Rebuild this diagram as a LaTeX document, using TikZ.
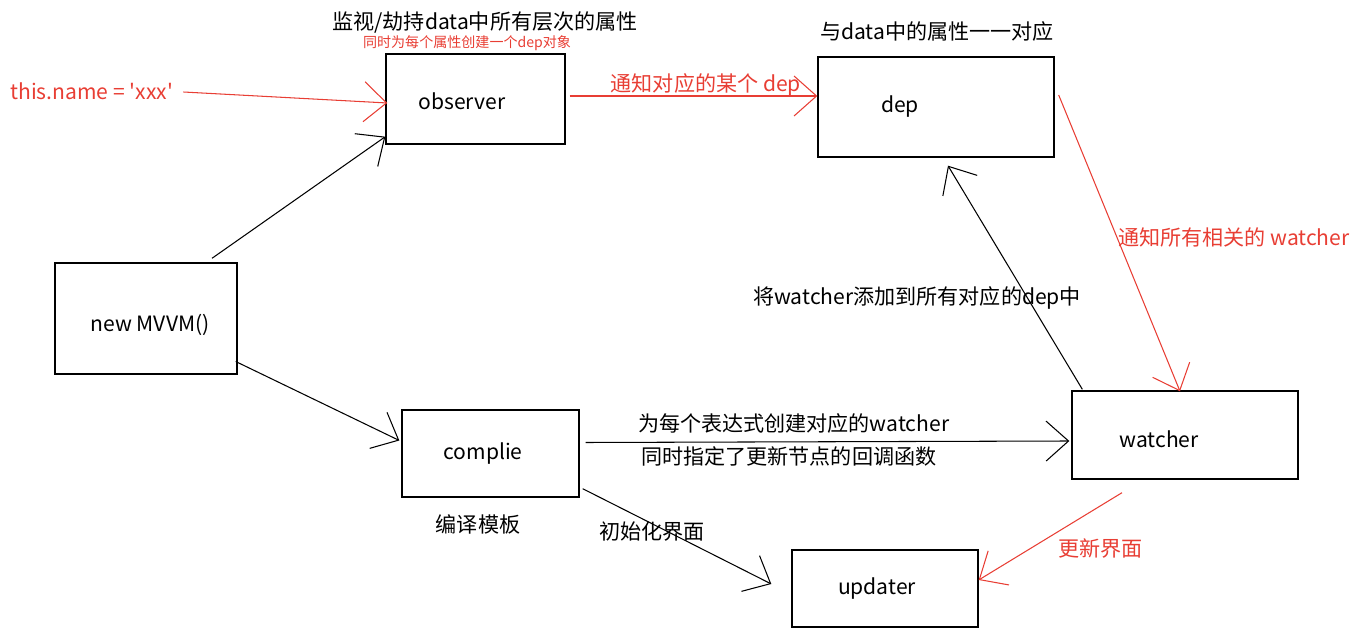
\documentclass[tikz,border=0pt]{standalone}
\usepackage{fontspec}
\setmainfont{Noto Sans CJK SC}[Ligatures = TeXOff]
\usetikzlibrary{positioning, calc, arrows.meta}
\definecolor{pen}{RGB}{232,62,52}
\tikzstyle{Arrow} = [
%hand drawn open arrow:
line width = 0.6pt,
-{Straight Barb[length = 0.45cm, width = 0.8cm, line width = 0.6pt]}
]

\begin{document}
\begin{tikzpicture}[x = 0.02cm, y = -0.02cm,
				box/.style = {rectangle, draw, line width = 0.8pt, font = \fontsize{12}{14}\selectfont},
				note/.style = {font = \fontsize{12}{14}\selectfont},
				small/.style = {font = \fontsize{8}{10}\selectfont, text = pen},
			]
			\useasboundingbox (0,0) rectangle (1356,641);

			\node[box, minimum width = 3.58cm, minimum height = 1.8cm, label = {[xshift = -0.27cm, yshift = -0.04cm, font = \fontsize{12}{14}\selectfont]center:observer}](observer) at (475.5,99){};
			\node[box, minimum width = 4.72cm, minimum height = 2cm, label = {[xshift = -0.72cm, font = \fontsize{12}{14}\selectfont]center:dep}](dep) at (936,107){};
			\node[box, minimum width = 3.64cm, minimum height = 2.22cm, label = {[xshift = 0.08cm, yshift = -0.13cm, font = \fontsize{12}{14}\selectfont]center:new MVVM()}](mvvm) at (146,318.5){};
			\node[box, minimum width = 3.54cm, minimum height = 1.74cm, label = {[xshift = -0.15cm, font = \fontsize{12}{14}\selectfont]center:complie}](complie) at (490.5,453.5){};
			\node[box, minimum width = 4.52cm, minimum height = 1.76cm, label = {[xshift = -0.52cm, yshift = -0.08cm, font = \fontsize{12}{14}\selectfont]center:watcher}](watcher) at (1185,435){};
			\node[box, minimum width = 3.72cm, minimum height = 1.54cm, label = {[xshift = -0.16cm, font = \fontsize{12}{14}\selectfont]center:updater}](updater) at (885,588.5){};

			\node[note](obsTitle) at (485,22){监视/劫持data中所有层次的属性};
			\node[small](obsNote) at (467,43){同时为每个属性创建一个dep对象};
			\node[note](depTitle) at (937,31){与data中的属性一一对应};
			\node[note, text = pen, anchor = west, inner xsep = 0pt](thisname) at (10,91){this.name = 'xxx'};
			\node[note](tplNote) at (478,524){编译模板};
			\node[note](addNote) at (917,298){将watcher添加到所有对应的dep中};
			\node[note](initNote) at (652,532){初始化界面};

			\draw[Arrow, pen]($(thisname.east)+(10,1)$)--($(observer.west)+(2,4)$);
			\draw[Arrow, pen]($(observer.east)+(4,-3)$)--node[note, pos = 0.55, above = -4pt, text = pen] {通知对应的某个 dep}($(dep.west)+(0,-11)$);
			\draw[Arrow]($(mvvm.north)+(66,-4)$)--($(observer.south west)+(0,-8)$);
			\draw[Arrow]($(mvvm.east)+(-2,43)$)--($(complie.west)+(-2,-13)$);
			\draw[Arrow]($(complie.east)+(6,-11)$)--node[note, pos = 0.43, above = 1pt] {为每个表达式创建对应的watcher}node[note, pos = 0.42, below = -1pt] {同时指定了更新节点的回调函数}($(watcher.west)+(-2,6)$);
			\draw[Arrow]($(watcher.north west)+(11,-1)$)--($(dep.south)+(12,8)$);
			\draw[Arrow, pen]($(dep.east)+(4,-12)$)--node[note, pos = 0.48, right = -3pt, text = pen] {通知所有相关的 watcher}($(watcher.north)+(-5,1)$);
			\draw[Arrow]($(complie.south east)+(3,-9)$)--($(updater.west)+(-20,-4.5)$);
			\draw[Arrow, pen]($(watcher.south)+(-63,13)$)--node[note, pos = 0.45, below right = 0pt and -3pt, text = pen] {更新界面}($(updater.east)+(0,-8.5)$);

		\end{tikzpicture}
\end{document}
